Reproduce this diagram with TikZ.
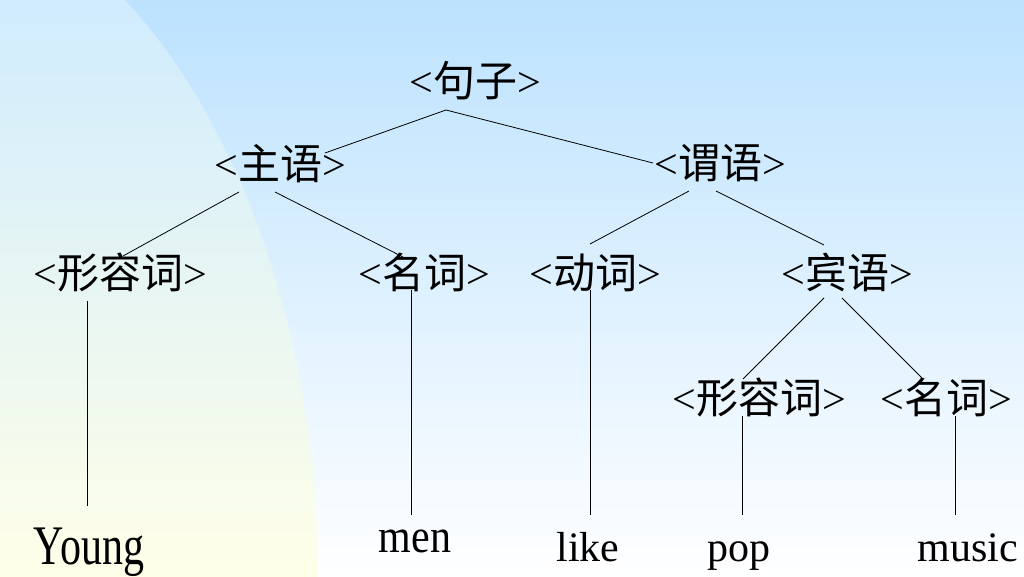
\documentclass[tikz,border=0pt]{standalone}
\usepackage{fontspec}
\setmainfont{Liberation Serif}
\newfontfamily\cjk{Noto Sans CJK SC}
\usetikzlibrary{calc}
\newcommand\lab[1]{<{\cjk #1}>}
\definecolor{bgtopR}{RGB}{188,226,254}
\definecolor{bgbotR}{RGB}{255,255,255}
\definecolor{bgtopL}{RGB}{208,236,254}
\definecolor{bgbotL}{RGB}{255,255,232}
\tikzset{
  lbl/.style={anchor=base, inner sep=0pt, font=\fontsize{42}{48}\selectfont},
  edge/.style={draw=black, line width=0.8pt}
}
\begin{document}
\begin{tikzpicture}[x=1pt,y=-1pt]
\useasboundingbox (0,0) rectangle (1024,577);
% background
\shade[top color=bgtopR, bottom color=bgbotR] (0,0) rectangle (1024,577);
\shade[top color=bgtopL, bottom color=bgbotL]
  (0,0) -- plot[domain=55.5:0, samples=60, smooth] ({-127+445*cos(\x)},{577-700*sin(\x)}) -- (0,577) -- cycle;
% nodes
\node[lbl] (s)   at (475,97)  {\lab{句子}};
\node[lbl] (zy)  at (280,180) {\lab{主语}};
\node[lbl] (wy)  at (720,179) {\lab{谓语}};
\node[lbl] (xr1) at (120,288) {\lab{形容词}};
\node[lbl] (mc1) at (424,288) {\lab{名词}};
\node[lbl] (dc)  at (595,288) {\lab{动词}};
\node[lbl] (by)  at (847,288) {\lab{宾语}};
\node[lbl] (xr2) at (759,413) {\lab{形容词}};
\node[lbl] (mc2) at (946,413) {\lab{名词}};
\node[lbl] (young) at (89,564)  {\scalebox{1}[1.33]{Young}};
\node[lbl] (men)   at (415,552) {\scalebox{1}[1.14]{men}};
\node[lbl] (like)  at (588,561) {like};
\node[lbl] (pop)   at (739,561) {pop};
\node[lbl] (music) at (968,561) {music};
% connectors
\draw[edge] ($(zy.base)+(45,-27)$) -- ($(s.base)+(-29,13)$) -- ($(wy.base)+(-67,-16)$);
\draw[edge] ($(zy.base)+(-41,12)$) -- ($(xr1.base)+(3,-32)$);
\draw[edge] ($(zy.base)+(-5,12)$) -- ($(mc1.base)+(-21,-31)$);
\draw[edge] ($(wy.base)+(-31,12)$) -- ($(dc.base)+(-5,-44)$);
\draw[edge] ($(wy.base)+(-4,12)$) -- ($(by.base)+(-23,-43)$);
\draw[edge] ($(xr1.base)+(-33,13)$) -- ($(young.base)+(-2,-58)$);
\draw[edge] ($(mc1.base)+(-13,2)$) -- ($(men.base)+(-4,-37)$);
\draw[edge] ($(dc.base)+(-5,2)$) -- ($(like.base)+(2,-46)$);
\draw[edge] ($(by.base)+(-23,10)$) -- ($(xr2.base)+(-16,-34)$);
\draw[edge] ($(by.base)+(-5,10)$) -- ($(mc2.base)+(-24,-35)$);
\draw[edge] ($(xr2.base)+(-17,3)$) -- ($(pop.base)+(3,-46)$);
\draw[edge] ($(mc2.base)+(9,3)$) -- ($(music.base)+(-13,-46)$);
\end{tikzpicture}
\end{document}
